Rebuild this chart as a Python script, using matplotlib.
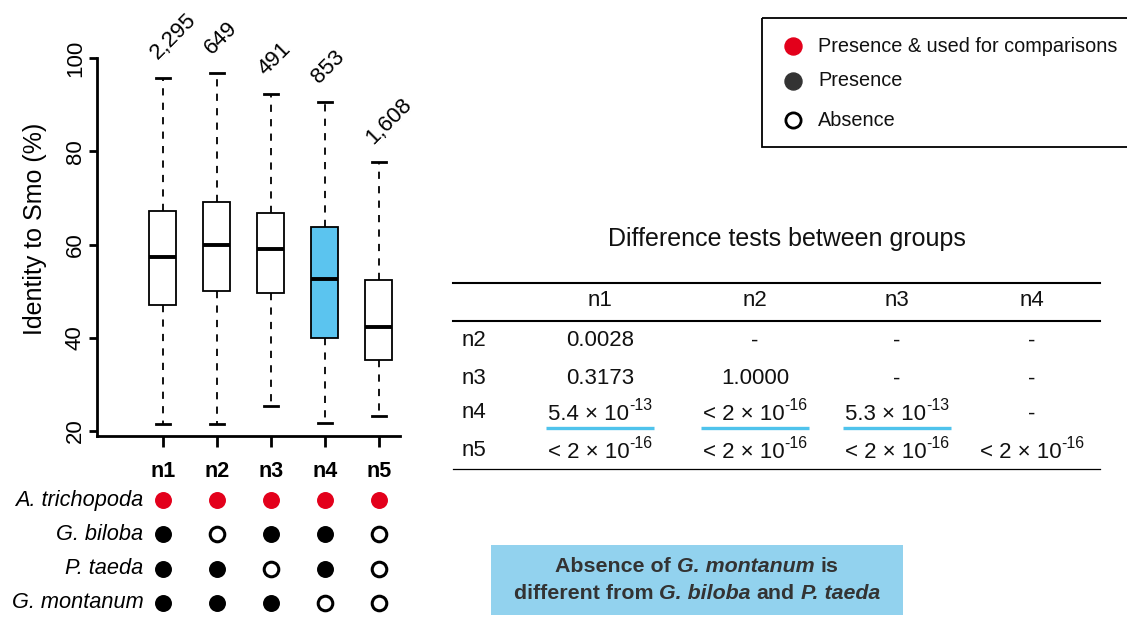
import matplotlib
matplotlib.use("Agg")
import matplotlib.pyplot as plt
from matplotlib.patches import Rectangle

plt.rcParams['font.family'] = ['Liberation Sans', 'DejaVu Sans']

# box plot data
groups = ['n1', 'n2', 'n3', 'n4', 'n5']
counts = ['2,295', '649', '491', '853', '1,608']
whis_hi = [95.8, 96.7, 92.2, 90.6, 77.6]
q3 = [67.1, 69.1, 66.8, 63.7, 52.4]
median = [57.4, 59.9, 59.0, 52.5, 42.3]
q1 = [47.1, 50.0, 49.6, 39.9, 35.2]
whis_lo = [21.6, 21.6, 25.3, 21.8, 23.3]
box_colors = ['white', 'white', 'white', '#5bc4ef', 'white']

# presence matrix: 2 = presence & used, 1 = presence, 0 = absence
species = ['A. trichopoda', 'G. biloba', 'P. taeda', 'G. montanum']
presence = [
    [2, 2, 2, 2, 2],
    [1, 0, 1, 1, 0],
    [1, 1, 0, 1, 0],
    [1, 1, 1, 0, 0],
]

# difference tests table: (mantissa, exponent) -- exponent None for plain values
tab_cols = ['n1', 'n2', 'n3', 'n4']
tab_rows = ['n2', 'n3', 'n4', 'n5']
lt16 = ('< 2 × 10', '-16')
pvals = [
    [('0.0028', None), ('-', None), ('-', None), ('-', None)],
    [('0.3173', None), ('1.0000', None), ('-', None), ('-', None)],
    [('5.4 × 10', '-13'), lt16, ('5.3 × 10', '-13'), ('-', None)],
    [lt16, lt16, lt16, lt16],
]
underlined = [
    [False, False, False, False],
    [False, False, False, False],
    [True, True, True, False],
    [False, False, False, False],
]

legend_labels = ['Presence & used for comparisons', 'Presence', 'Absence']

W, H = 1127, 626
fig = plt.figure(figsize=(W / 100, H / 100), dpi=100)

# ---- box plot ----
ax = fig.add_axes([97 / W, (H - 436) / H, 303 / W, 378 / H])
pos = list(range(1, 6))
stats = []
for i in range(5):
    stats.append(dict(med=median[i], q1=q1[i], q3=q3[i],
                      whislo=whis_lo[i], whishi=whis_hi[i], fliers=[]))
bp = ax.bxp(stats, positions=pos, widths=0.5, capwidths=0.26,
            patch_artist=True, showfliers=False,
            boxprops=dict(linewidth=1.3, edgecolor='black'),
            whiskerprops=dict(linestyle=(0, (4, 4)), linewidth=1.3),
            capprops=dict(linewidth=2),
            medianprops=dict(color='black', linewidth=2.8))
for patch, c in zip(bp['boxes'], box_colors):
    patch.set_facecolor(c)

ax.set_xlim(-0.222, 5.389)
ax.set_ylim(18.93, 100)
ax.set_yticks([20, 40, 60, 80, 100])
ax.set_xticks(pos)
ax.set_xticklabels(groups, fontweight='bold', fontsize=15.5)
ax.tick_params(axis='y', labelsize=16, labelrotation=90, width=2, length=6, pad=2)
ax.tick_params(axis='x', width=2, length=8, pad=10)
for lab in ax.get_yticklabels():
    lab.set_va('center')
for s in ['top', 'right']:
    ax.spines[s].set_visible(False)
for s in ['left', 'bottom']:
    ax.spines[s].set_linewidth(2)
ax.set_ylabel('Identity to Smo (%)', fontsize=18)
ax.yaxis.set_label_coords(-0.205, 0.548)
ax.yaxis.label.set_va('center')

for x, top, c in zip(pos, whis_hi, counts):
    ax.annotate(c, (x, top), xytext=(-4, 13), textcoords='offset points',
                rotation=45, rotation_mode='anchor', ha='left', va='baseline',
                fontsize=16)

# ---- presence dots ----
ax2 = fig.add_axes([97 / W, (H - 620) / H, 303 / W, 137 / H])
ax2.set_xlim(-0.222, 5.389)
ax2.set_ylim(3.5, -0.5)
ax2.axis('off')
for r, row in enumerate(presence):
    for c, v in enumerate(row):
        if v == 2:
            ax2.scatter(pos[c], r, s=125, color='#e3001b', zorder=3)
        elif v == 1:
            ax2.scatter(pos[c], r, s=125, color='black', zorder=3)
        else:
            ax2.scatter(pos[c], r, s=110, facecolor='white', edgecolor='black',
                        linewidth=2.2, zorder=3)
    ax2.text(0.64, r, species[r], ha='right', va='center', fontsize=15.7,
             fontstyle='italic')

# ---- overlay in pixel coords for legend, table, note ----
ov = fig.add_axes([0, 0, 1, 1])
ov.set_xlim(0, W)
ov.set_ylim(H, 0)
ov.axis('off')
ov.patch.set_alpha(0)
fig.canvas.draw()
renderer = fig.canvas.get_renderer()


def draw_pieces(x, y, pieces, size, ha='center', **common):
    # pieces: list of (text, options); ' ' is a plain gap; y is the baseline
    items = []
    total = 0
    for s, kw in pieces:
        kw = dict(kw)
        dy = kw.pop('dy', 0)
        fs = kw.pop('fontsize', size)
        if s == ' ':
            w = 0.278 * fs * 100 / 72
            items.append((None, w))
        else:
            t = ov.text(0, y - dy, s, fontsize=fs, ha='left', va='baseline',
                        **common, **kw)
            w = t.get_window_extent(renderer).width
            items.append((t, w))
        total += w
    x0 = x - total / 2 if ha == 'center' else x
    cur = x0
    for t, w in items:
        if t is not None:
            t.set_x(cur)
        cur += w
    return x0, x0 + total


ov.add_patch(Rectangle((762, 18), 380, 129, facecolor='none',
                       edgecolor='black', linewidth=1.3))
leg_y = [46, 81, 120]
ov.scatter([793], [leg_y[0]], s=150, color='#e3001b')
ov.scatter([793], [leg_y[1]], s=150, color='#333333')
ov.scatter([793], [leg_y[2]], s=120, facecolor='white', edgecolor='black', linewidth=2)
for y, lab in zip(leg_y, legend_labels):
    ov.text(818, y, lab, ha='left', va='center', fontsize=14.3, color='#111111')

# table
ov.text(787, 239, 'Difference tests between groups', ha='center', va='center',
        fontsize=18, color='#111111')
for y in [283, 321]:
    ov.plot([453, 1100], [y, y], color='black', linewidth=1.5)
ov.plot([453, 1100], [469, 469], color='black', linewidth=0.9)
col_x = [600, 755, 897, 1032]
row_y = [340, 378, 413, 451]
for x, lab in zip(col_x, tab_cols):
    ov.text(x, 301, lab, ha='center', va='center', fontsize=16, color='#111111')
for r, (y, rl) in enumerate(zip(row_y, tab_rows)):
    ov.text(462, y, rl, ha='left', va='center', fontsize=16, color='#111111')
    for c, x in enumerate(col_x):
        mant, expo = pvals[r][c]
        pieces = [(mant, {})]
        if expo is not None:
            pieces.append((expo, {'fontsize': 11.5, 'dy': 9}))
        x0, x1 = draw_pieces(x, y + 6.5, pieces, 16, color='#111111')
        if underlined[r][c]:
            ov.plot([x0 - 2, x1 + 2], [y + 15, y + 15], color='#4fc3ec',
                    linewidth=2.4, solid_capstyle='butt')

# note box
ov.add_patch(Rectangle((491, 545), 412, 70, facecolor='#92d2ee', edgecolor='none'))
bi = {'fontstyle': 'italic'}
line1 = [('Absence of', {}), (' ', {}), ('G. montanum', bi), (' ', {}), ('is', {})]
line2 = [('different from', {}), (' ', {}), ('G. biloba', bi), (' ', {}),
         ('and', {}), (' ', {}), ('P. taeda', bi)]
draw_pieces(697, 572, line1, 15.4, color='#333333', fontweight='bold')
draw_pieces(697, 599, line2, 15.4, color='#333333', fontweight='bold')

fig.savefig('out.png', dpi=100)
